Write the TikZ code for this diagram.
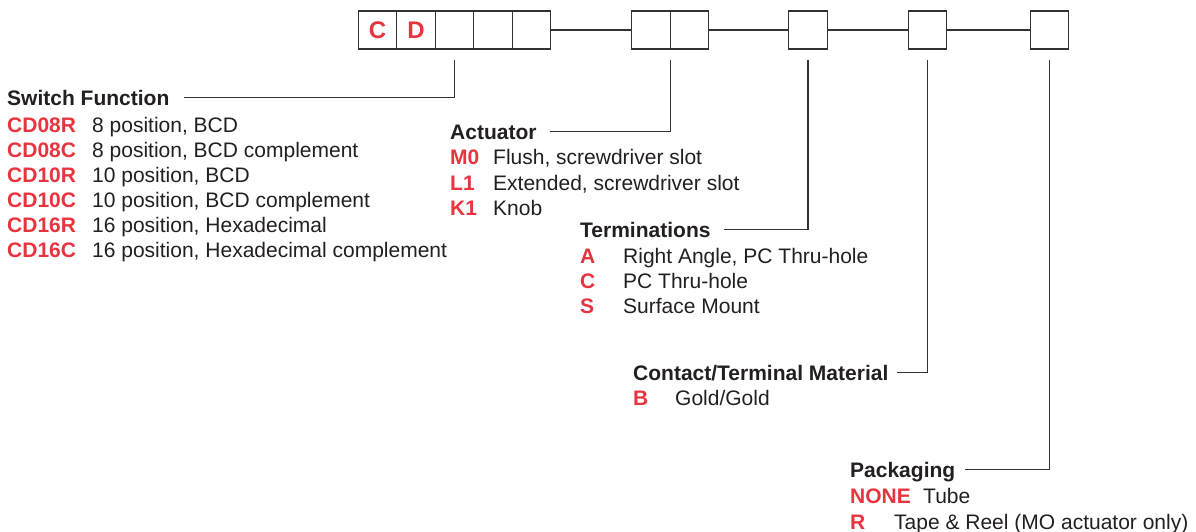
\documentclass[tikz,border=0pt]{standalone}
\usepackage{fontspec}
\setmainfont{Liberation Sans}
\usetikzlibrary{positioning}

\definecolor{codered}{RGB}{232,52,62}
\definecolor{ink}{RGB}{35,31,32}
\definecolor{rulegray}{RGB}{50,50,50}

\begin{document}
\begin{tikzpicture}[x=1pt,y=-1pt,
   cell/.style={draw=rulegray,line width=1.3pt,minimum width=38.5pt,minimum height=38pt,
      inner sep=0pt,outer sep=0pt,text=codered,font=\fontsize{24}{28}\selectfont\bfseries},
   hdr/.style={anchor=base west,inner sep=0pt,text height=15pt,text depth=0pt,
      text=ink,font=\fontsize{21}{25}\selectfont\bfseries},
   code/.style={anchor=base west,inner sep=0pt,text=codered,font=\fontsize{21}{25}\selectfont\bfseries},
   desc/.style={anchor=base west,inner sep=0pt,text=ink,font=\fontsize{21}{25}\selectfont},
   lead/.style={draw=rulegray,line width=1.2pt}]

   \useasboundingbox (0,0) rectangle (1196,531);

   % part number boxes
   \node[cell] (b1) at (377.5,30) {C};
   \node[cell,right=0pt of b1] (b2) {D};
   \node[cell,right=0pt of b2] (b3) {};
   \node[cell,right=0pt of b3] (b4) {};
   \node[cell,right=0pt of b4] (b5) {};
   \node[cell] (b6) at (651,30) {};
   \node[cell,right=0pt of b6] (b7) {};
   \node[cell] (b8) at (808,30) {};
   \node[cell] (b9) at (927.5,30) {};
   \node[cell] (b10) at (1049.5,30) {};

   \draw[lead] (b5) -- (b6);
   \draw[lead] (b7) -- (b8);
   \draw[lead] (b8) -- (b9);
   \draw[lead] (b9) -- (b10);

   % switch function
   \node[hdr] (sf) at (7,105) {Switch Function};
   \node[code] (sf1) at (7,132) {CD08R};   \node[desc] (sf1d) at (92,132) {8 position, BCD};
   \node[code] (sf2) at (7,157) {CD08C};   \node[desc] (sf2d) at (92,157) {8 position, BCD complement};
   \node[code] (sf3) at (7,182) {CD10R};   \node[desc] (sf3d) at (92,182) {10 position, BCD};
   \node[code] (sf4) at (7,207) {CD10C};   \node[desc] (sf4d) at (92,207) {10 position, BCD complement};
   \node[code] (sf5) at (7,232) {CD16R};   \node[desc] (sf5d) at (92,232) {16 position, Hexadecimal};
   \node[code] (sf6) at (7,257) {CD16C};   \node[desc] (sf6d) at (92,257) {16 position, Hexadecimal complement};

   % actuator
   \node[hdr] (act) at (450,139) {Actuator};
   \node[code] (act1) at (450,164) {M0};   \node[desc] (act1d) at (493,164) {Flush, screwdriver slot};
   \node[code] (act2) at (450,190) {L1};   \node[desc] (act2d) at (493,190) {Extended, screwdriver slot};
   \node[code] (act3) at (450,215) {K1};   \node[desc] (act3d) at (493,215) {Knob};

   % terminations
   \node[hdr] (term) at (580,237) {Terminations};
   \node[code] (term1) at (580,263) {A};   \node[desc] (term1d) at (623,263) {Right Angle, PC Thru-hole};
   \node[code] (term2) at (580,288) {C};   \node[desc] (term2d) at (623,288) {PC Thru-hole};
   \node[code] (term3) at (580,313) {S};   \node[desc] (term3d) at (623,313) {Surface Mount};

   % contact material
   \node[hdr] (mat) at (633,380) {Contact/Terminal Material};
   \node[code] (mat1) at (633,405) {B};   \node[desc] (mat1d) at (675,405) {Gold/Gold};

   % packaging
   \node[hdr] (pkg) at (850,477) {Packaging};
   \node[code] (pkg1) at (850,503) {NONE};   \node[desc] (pkg1d) at (923,503) {Tube};
   \node[code] (pkg2) at (850,529) {R};   \node[desc] (pkg2d) at (894,529) {Tape \& Reel (MO actuator only)};

   % leaders
   \draw[lead] ([xshift=14pt]sf.east) -| ([yshift=-11pt]b3.south);
   \draw[lead] ([xshift=13pt]act.east) -| ([yshift=-11pt]b6.south east);
   \draw[lead] ([xshift=13pt]term.east) -| ([yshift=-11pt]b8.south);
   \draw[lead] ([xshift=8pt]mat.east) -| ([yshift=-11pt]b9.south);
   \draw[lead] ([xshift=10pt]pkg.east) -| ([yshift=-11pt]b10.south);

\end{tikzpicture}
\end{document}
